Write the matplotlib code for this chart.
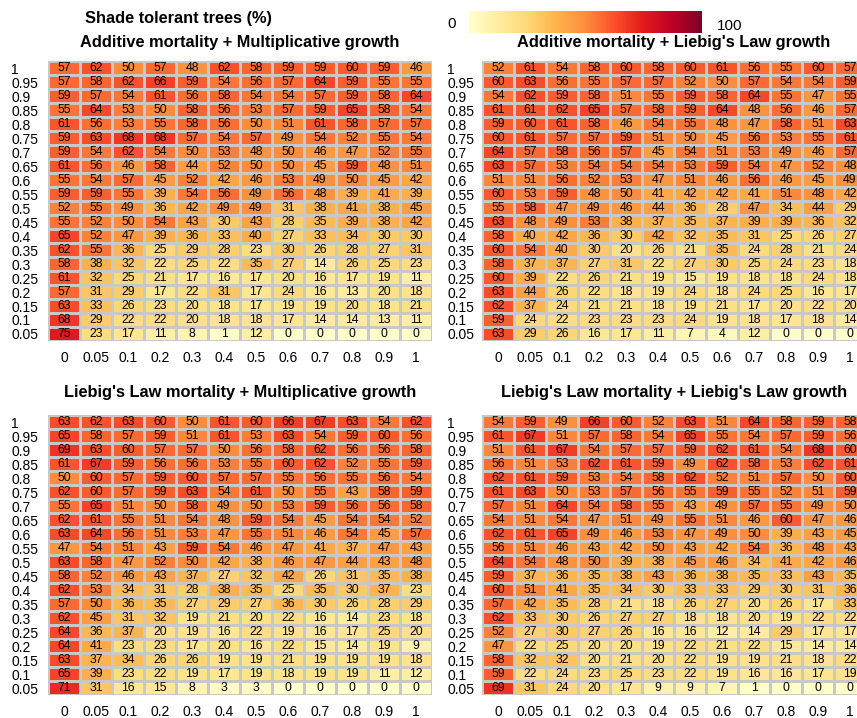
import numpy as np
import matplotlib.pyplot as plt
from matplotlib.cm import ScalarMappable
from matplotlib.colors import Normalize

plt.rcParams['font.family'] = ['Liberation Sans', 'DejaVu Sans']

# growth parameter (columns) and light level (rows, top to bottom)
growth_labels = ["0", "0.05", "0.1", "0.2", "0.3", "0.4", "0.5", "0.6", "0.7", "0.8", "0.9", "1"]
light_labels = ["1", "0.95", "0.9", "0.85", "0.8", "0.75", "0.7", "0.65", "0.6", "0.55",
                "0.5", "0.45", "0.4", "0.35", "0.3", "0.25", "0.2", "0.15", "0.1", "0.05"]

add_mult = [
    [57, 62, 50, 57, 48, 62, 58, 59, 59, 60, 59, 46],
    [57, 58, 62, 66, 59, 54, 56, 57, 64, 59, 55, 55],
    [59, 57, 54, 61, 56, 58, 54, 54, 57, 59, 58, 64],
    [55, 64, 53, 50, 58, 56, 53, 57, 59, 65, 58, 54],
    [61, 56, 53, 55, 58, 56, 50, 51, 61, 58, 57, 57],
    [59, 63, 68, 68, 57, 54, 57, 49, 54, 52, 55, 54],
    [59, 54, 62, 54, 50, 53, 48, 50, 46, 47, 52, 55],
    [61, 56, 46, 58, 44, 52, 50, 50, 45, 59, 48, 51],
    [55, 54, 57, 45, 52, 42, 46, 53, 49, 50, 45, 42],
    [59, 59, 55, 39, 54, 56, 49, 56, 48, 39, 41, 39],
    [52, 55, 49, 36, 42, 49, 49, 31, 38, 41, 38, 45],
    [55, 52, 50, 54, 43, 30, 43, 28, 35, 39, 38, 42],
    [65, 52, 47, 39, 36, 33, 40, 27, 33, 34, 30, 30],
    [62, 55, 36, 25, 29, 28, 23, 30, 26, 28, 27, 31],
    [58, 38, 32, 22, 25, 22, 35, 27, 14, 26, 25, 23],
    [61, 32, 25, 21, 17, 16, 17, 20, 16, 17, 19, 11],
    [57, 31, 29, 17, 22, 31, 17, 24, 16, 13, 20, 18],
    [63, 33, 26, 23, 20, 18, 17, 19, 19, 20, 18, 21],
    [68, 29, 22, 22, 20, 18, 18, 17, 14, 14, 13, 11],
    [75, 23, 17, 11, 8, 1, 12, 0, 0, 0, 0, 0],
]

add_liebig = [
    [52, 61, 54, 58, 60, 58, 60, 61, 56, 55, 60, 57],
    [60, 63, 56, 55, 57, 57, 52, 50, 57, 54, 54, 59],
    [54, 62, 59, 58, 51, 55, 59, 58, 64, 55, 47, 55],
    [61, 61, 62, 65, 57, 58, 59, 64, 48, 56, 46, 57],
    [59, 60, 61, 58, 46, 54, 55, 48, 47, 58, 51, 63],
    [60, 61, 57, 57, 59, 51, 50, 45, 56, 53, 55, 61],
    [64, 57, 58, 56, 57, 45, 54, 51, 53, 49, 46, 57],
    [63, 57, 53, 54, 54, 54, 53, 59, 54, 47, 52, 48],
    [51, 51, 56, 52, 53, 47, 51, 46, 56, 46, 45, 49],
    [60, 53, 59, 48, 50, 41, 42, 42, 41, 51, 48, 42],
    [55, 58, 47, 49, 46, 44, 36, 28, 47, 34, 44, 29],
    [63, 48, 49, 53, 38, 37, 35, 37, 39, 39, 36, 32],
    [58, 40, 42, 36, 30, 42, 32, 35, 31, 25, 26, 27],
    [60, 54, 40, 30, 20, 26, 21, 35, 24, 28, 21, 24],
    [58, 37, 37, 27, 31, 22, 27, 30, 25, 24, 23, 18],
    [60, 39, 22, 26, 21, 19, 15, 19, 18, 18, 24, 18],
    [63, 44, 26, 22, 18, 19, 24, 18, 24, 25, 16, 17],
    [62, 37, 24, 21, 21, 18, 19, 21, 17, 20, 22, 20],
    [59, 24, 22, 23, 23, 23, 24, 19, 18, 17, 18, 14],
    [63, 29, 26, 16, 17, 11, 7, 4, 12, 0, 0, 0],
]

liebig_mult = [
    [63, 62, 63, 60, 50, 61, 60, 66, 67, 63, 54, 62],
    [65, 58, 57, 59, 51, 61, 53, 63, 54, 59, 60, 56],
    [69, 63, 60, 57, 57, 50, 56, 58, 62, 56, 56, 58],
    [61, 67, 59, 56, 56, 53, 55, 60, 62, 52, 55, 59],
    [50, 60, 57, 59, 60, 57, 57, 55, 56, 55, 56, 54],
    [62, 60, 57, 59, 63, 54, 61, 50, 55, 43, 58, 59],
    [55, 65, 51, 50, 58, 49, 50, 53, 59, 56, 56, 58],
    [62, 61, 55, 51, 54, 48, 59, 54, 45, 54, 54, 52],
    [63, 64, 56, 51, 53, 47, 55, 51, 46, 54, 45, 57],
    [47, 54, 51, 43, 59, 54, 46, 47, 41, 37, 47, 43],
    [63, 58, 47, 52, 50, 42, 38, 46, 47, 44, 43, 48],
    [58, 52, 46, 43, 37, 27, 32, 42, 26, 31, 35, 38],
    [62, 53, 34, 31, 28, 38, 35, 25, 35, 30, 37, 23],
    [57, 50, 36, 35, 27, 29, 27, 36, 30, 26, 28, 29],
    [62, 45, 31, 32, 19, 21, 20, 22, 16, 14, 23, 18],
    [64, 36, 37, 20, 19, 16, 22, 19, 16, 17, 25, 20],
    [64, 41, 23, 23, 17, 20, 16, 22, 15, 14, 19, 9],
    [63, 37, 34, 26, 26, 19, 19, 21, 19, 19, 19, 18],
    [65, 39, 23, 22, 19, 17, 19, 18, 19, 19, 11, 12],
    [71, 31, 16, 15, 8, 3, 3, 0, 0, 0, 0, 0],
]

liebig_liebig = [
    [54, 59, 49, 66, 60, 52, 63, 51, 64, 58, 59, 58],
    [61, 67, 51, 57, 58, 54, 65, 55, 54, 57, 59, 56],
    [51, 61, 67, 54, 57, 57, 59, 62, 61, 54, 68, 60],
    [56, 51, 53, 62, 61, 59, 49, 62, 58, 53, 62, 61],
    [62, 61, 59, 53, 54, 58, 62, 52, 51, 57, 50, 60],
    [61, 63, 50, 53, 57, 56, 55, 59, 55, 52, 51, 59],
    [57, 51, 64, 54, 58, 55, 43, 49, 57, 55, 49, 50],
    [54, 51, 54, 47, 51, 49, 55, 51, 46, 60, 47, 46],
    [62, 61, 65, 49, 46, 53, 47, 49, 50, 39, 43, 45],
    [56, 51, 46, 43, 42, 50, 43, 42, 54, 36, 48, 43],
    [64, 54, 48, 50, 39, 38, 45, 46, 34, 41, 42, 46],
    [59, 37, 36, 35, 38, 43, 36, 38, 35, 33, 43, 35],
    [60, 51, 41, 35, 34, 30, 33, 33, 29, 30, 31, 36],
    [57, 42, 35, 28, 21, 18, 26, 27, 20, 26, 17, 33],
    [62, 33, 30, 26, 27, 27, 18, 18, 20, 19, 22, 22],
    [52, 27, 30, 27, 26, 16, 16, 12, 14, 29, 17, 17],
    [47, 22, 25, 20, 20, 19, 22, 21, 22, 15, 14, 14],
    [58, 32, 32, 20, 21, 20, 22, 19, 19, 21, 18, 22],
    [59, 22, 24, 23, 25, 23, 22, 19, 16, 16, 17, 19],
    [69, 31, 24, 20, 17, 9, 9, 7, 1, 0, 0, 0],
]

titles = [
    "Additive mortality + Multiplicative growth",
    "Additive mortality + Liebig's Law growth",
    "Liebig's Law mortality + Multiplicative growth",
    "Liebig's Law mortality + Liebig's Law growth",
]
tables = [add_mult, add_liebig, liebig_mult, liebig_liebig]

W, H = 857, 718
fig = plt.figure(figsize=(W / 100, H / 100), dpi=100)
cmap = plt.get_cmap("YlOrRd")
norm = Normalize(vmin=0, vmax=100)

# pixel layout: left edge, top edge of each heatmap, y label column, title y
cell_w, cell_h = 32, 14
layout = [
    (48, 61, 11, 43),
    (482, 61, 447, 43),
    (48, 415, 11, 393),
    (482, 415, 447, 393),
]

for title, table, (left, top, lab_x, title_y) in zip(titles, tables, layout):
    z = np.array(table)
    nrow, ncol = z.shape
    ax = fig.add_axes([left / W, 1 - (top + nrow * cell_h) / H,
                       ncol * cell_w / W, nrow * cell_h / H])
    ax.pcolormesh(z, cmap=cmap, norm=norm, edgecolors="#C8C8C8", linewidth=0.8)
    ax.set_xlim(0, ncol)
    ax.set_ylim(nrow, 0)
    for i in range(nrow):
        for j in range(ncol):
            ax.text(j + 0.5, i + 0.5, str(z[i, j]), ha="center", va="center",
                    fontsize=8.8, color="black")
    ax.set_xticks(np.arange(ncol) + 0.5, growth_labels)
    ax.set_yticks(np.arange(nrow) + 0.5, light_labels)
    ax.tick_params(length=0, labelsize=10)
    ax.tick_params(axis="x", pad=7)
    ax.tick_params(axis="y", pad=(left - lab_x) * 0.72)
    for lab in ax.get_yticklabels():
        lab.set_horizontalalignment("left")
    for s in ax.spines.values():
        s.set_visible(False)
    fig.text((left + ncol * cell_w / 2) / W, 1 - title_y / H, title,
             ha="center", va="center", fontsize=11.8, fontweight="bold")

# colour key
fig.text(85 / W, 1 - 18 / H, "Shade tolerant trees (%)", ha="left", va="center",
         fontsize=11.8, fontweight="bold")
cax = fig.add_axes([469 / W, 1 - 33 / H, 233 / W, 22 / H])
cb = fig.colorbar(ScalarMappable(norm=norm, cmap=cmap), cax=cax, orientation="horizontal")
cb.outline.set_visible(False)
cb.set_ticks([])
fig.text(452 / W, 1 - 24 / H, "0", ha="center", va="center", fontsize=11)
fig.text(717 / W, 1 - 26 / H, "100", ha="left", va="center", fontsize=11)

fig.savefig("out.png", dpi=100)
